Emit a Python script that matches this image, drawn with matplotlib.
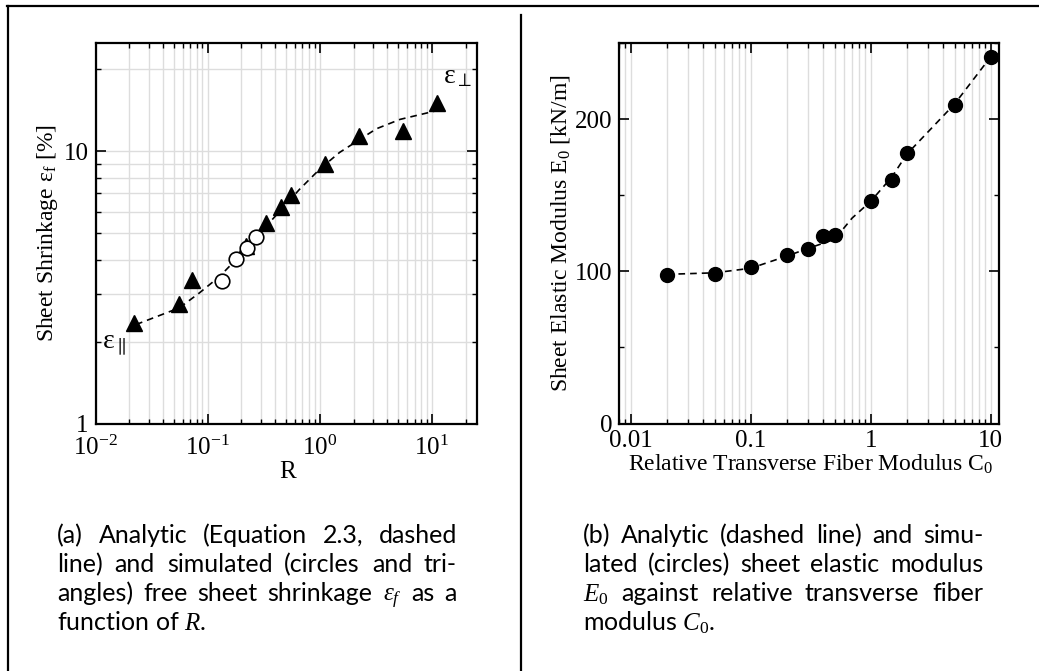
import numpy as np
import matplotlib
matplotlib.use("Agg")
import matplotlib.pyplot as plt
from matplotlib.lines import Line2D
from matplotlib.ticker import LogLocator, FixedLocator, FixedFormatter, MultipleLocator, NullFormatter

plt.rcParams['font.family'] = ['Liberation Serif', 'DejaVu Serif']
plt.rcParams['mathtext.fontset'] = 'custom'
plt.rcParams['mathtext.rm'] = 'Liberation Serif'
plt.rcParams['mathtext.it'] = 'Liberation Serif:italic'
plt.rcParams['mathtext.bf'] = 'Liberation Serif:bold'

# (a) free sheet shrinkage against R
R_tri = [0.022, 0.056, 0.072, 0.221, 0.335, 0.449, 0.559, 1.11, 2.23, 5.54, 11.2]
eps_tri = [2.35, 2.74, 3.38, 4.49, 5.44, 6.22, 6.89, 8.96, 11.4, 11.9, 15.0]
R_circ = [0.134, 0.180, 0.224, 0.268]
eps_circ = [3.34, 4.03, 4.43, 4.84]
R_line = [0.023, 0.056, 0.0846, 0.128, 0.180, 0.272, 0.47, 0.66, 1.0, 1.5, 2.23, 3.2, 5.2, 11.0]
eps_line = [2.31, 2.66, 3.02, 3.47, 4.01, 4.85, 6.2, 7.25, 8.6, 9.9, 11.0, 12.1, 13.1, 14.1]

# (b) sheet elastic modulus against C0
C0 = [0.02, 0.05, 0.1, 0.2, 0.3, 0.4, 0.5, 1, 1.5, 2, 5, 10]
E0 = [97.8, 98.4, 102.6, 110.7, 114.7, 123.0, 123.9, 146.5, 159.9, 178.0, 209.2, 241.1]
C0_line = [0.02, 0.05, 0.1, 0.2, 0.3, 0.5, 0.7, 1, 1.5, 2, 5, 10]
E0_line = [98, 99, 102, 110, 115, 121, 135, 146, 162, 177, 210, 241]

cap_a = ["(a) Analytic (Equation  2.3, dashed",
         "line) and simulated (circles and tri-",
         r"angles) free sheet shrinkage $\epsilon_f$ as a",
         r"function of $R$."]
cap_b = ["(b) Analytic (dashed line) and simu-",
         "lated (circles) sheet elastic modulus",
         r"$E_0$ against relative transverse fiber",
         r"modulus $C_0$."]

W, H = 1039, 671
fig = plt.figure(figsize=(W / 100, H / 100), dpi=100)

def px_axes(x0, y0, x1, y1):
    return fig.add_axes([x0 / W, 1 - y1 / H, (x1 - x0) / W, (y1 - y0) / H])

ax1 = px_axes(95.5, 43, 476.5, 423.5)
ax2 = px_axes(619, 43, 999, 423.5)

grid_kw = dict(color='#dddddd', lw=1.0, zorder=0)
for ax in (ax1, ax2):
    for s in ax.spines.values():
        s.set_linewidth(1.6)
    ax.tick_params(which='both', direction='in', top=True, right=True, labelsize=18, width=1.2)
    ax.tick_params(which='major', length=7, pad=5)
    ax.tick_params(which='minor', length=3.5, width=1.0)
    ax.set_axisbelow(True)

# ---- panel (a)
ax1.plot(R_line, eps_line, ls=(0, (4, 3)), color='k', lw=1.2, zorder=2)
ax1.plot(R_tri, eps_tri, ls='none', marker='^', ms=11, color='k', zorder=3)
ax1.plot(R_circ, eps_circ, ls='none', marker='o', ms=10.5, mfc='white', mec='k', mew=1.2, zorder=4)
ax1.set_xscale('log')
ax1.set_yscale('log')
ax1.set_xlim(0.01, 25)
ax1.set_ylim(1, 25)
ax1.xaxis.set_major_locator(LogLocator(base=10, numticks=10))
ax1.xaxis.set_minor_locator(LogLocator(base=10, subs=np.arange(2, 10), numticks=20))
ax1.xaxis.set_minor_formatter(NullFormatter())
ax1.yaxis.set_major_locator(FixedLocator([1, 10]))
ax1.yaxis.set_major_formatter(FixedFormatter(['1', '10']))
ax1.yaxis.set_minor_locator(LogLocator(base=10, subs=np.arange(2, 10), numticks=20))
ax1.yaxis.set_minor_formatter(NullFormatter())
ax1.tick_params(axis='x', which='major', pad=9)
ax1.grid(True, which='both', axis='both', **grid_kw)
ax1.set_xlabel('R', fontsize=18)
ax1.xaxis.set_label_coords(0.503, -0.098)
ax1.set_ylabel(r'Sheet Shrinkage ε$_{\mathrm{f}}$ [%]', fontsize=17)
ax1.yaxis.set_label_coords(-0.093, 0.5)
ax1.text(0.951, 0.913, r'ε$_{\perp}$', transform=ax1.transAxes, fontsize=20, ha='center', va='center')
ax1.text(0.05, 0.205, r'ε$_{\parallel}$', transform=ax1.transAxes, fontsize=20, ha='center', va='center')

# ---- panel (b)
ax2.plot(C0_line, E0_line, ls=(0, (4, 3)), color='k', lw=1.2, zorder=2)
ax2.plot(C0, E0, ls='none', marker='o', ms=10, color='k', zorder=3)
ax2.set_xscale('log')
ax2.set_xlim(0.008, 11.7)
ax2.set_ylim(0, 250)
ax2.xaxis.set_major_locator(FixedLocator([0.01, 0.1, 1, 10]))
ax2.xaxis.set_major_formatter(FixedFormatter(['0.01', '0.1', '1', '10']))
ax2.xaxis.set_minor_locator(LogLocator(base=10, subs=np.arange(2, 10), numticks=20))
ax2.xaxis.set_minor_formatter(NullFormatter())
ax2.yaxis.set_major_locator(MultipleLocator(100))
ax2.yaxis.set_minor_locator(MultipleLocator(50))
ax2.grid(True, which='both', axis='x', **grid_kw)
ax2.set_xlabel(r'Relative Transverse Fiber Modulus C$_0$', fontsize=17)
ax2.xaxis.set_label_coords(0.505, -0.078)
ax2.set_ylabel(r'Sheet Elastic Modulus E$_0$ [kN/m]', fontsize=17)
ax2.yaxis.set_label_coords(-0.124, 0.5)

# frame lines around the two sub-figures
for xs, ys in [([7, W], [6, 6]), ([8, 8], [6, H]), ([521, 521], [15, H])]:
    fig.add_artist(Line2D([x / W for x in xs], [1 - y / H for y in ys],
                          transform=fig.transFigure, color='k', lw=1.6))

# justified captions
renderer = fig.canvas.get_renderer()
cap_kw = dict(fontsize=18, family=['Lato', 'DejaVu Sans'], va='baseline')

def caption(lines, x0, x1, y0, dy):
    for i, line in enumerate(lines):
        yb = 1 - (y0 + i * dy) / H
        if i == len(lines) - 1:
            fig.text(x0 / W, yb, line, ha='left', **cap_kw)
            continue
        words = line.split()
        texts = [fig.text(0, yb, w, ha='left', **cap_kw) for w in words]
        widths = [t.get_window_extent(renderer=renderer).width for t in texts]
        gap = (x1 - x0 - sum(widths)) / (len(words) - 1)
        x = x0
        for t, w in zip(texts, widths):
            t.set_x(x / W)
            x += w + gap

caption(cap_a, 57, 457, 543, 29)
caption(cap_b, 583, 983, 543, 29)

fig.savefig('out.png', dpi=100)
